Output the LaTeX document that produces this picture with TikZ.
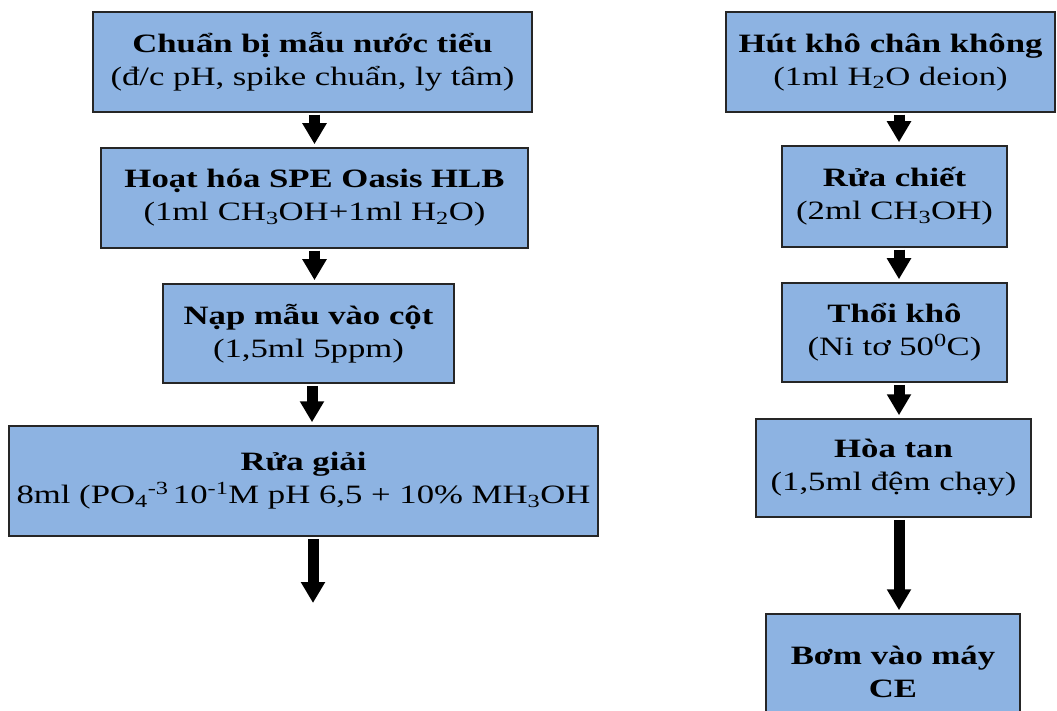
\documentclass[tikz,border=0pt]{standalone}
\usepackage{fontspec}
\setmainfont{Liberation Serif}[FakeStretch=1.31]
\usepackage{tikz}
\usetikzlibrary{arrows.meta,calc}
\definecolor{xanhhop}{RGB}{141,179,226}
\tikzstyle{muiten}=[-{Triangle[width=23pt,length=21pt]}, line width=11pt, shorten <=2pt, shorten >=3pt]

\begin{document}
\begin{tikzpicture}[x=1pt,y=-1pt,
          hop/.style={rectangle,draw=black!85,fill=xanhhop,line width=1.5pt,inner sep=0pt,
          align=center,font=\fontsize{26.5}{33}\selectfont}]
        \useasboundingbox (0,0) rectangle (1057,711);
        % cot trai
        \node [hop, minimum width=439pt, minimum height=100pt] (b1) at (312.5,62)
          {\textbf{Chuẩn bị mẫu nước tiểu}\\(đ/c pH, spike chuẩn, ly tâm)};
        \node [hop, minimum width=427pt, minimum height=100pt] (b2) at (314.5,198)
          {\textbf{Hoạt hóa SPE Oasis HLB}\\(1ml CH\textsubscript{3}OH+1ml H\textsubscript{2}O)};
        \node [hop, minimum width=291pt, minimum height=99pt] (b3) at (308.5,333.5)
          {\textbf{Nạp mẫu vào cột}\\(1,5ml 5ppm)};
        \node [hop, minimum width=589pt, minimum height=110pt] (b4) at (303.5,481)
          {\textbf{Rửa giải}\\8ml (PO\textsubscript{4}\textsuperscript{-3}\,10\textsuperscript{-1}M pH 6,5 + 10\% MH\textsubscript{3}OH};
        \coordinate (cuoi) at (313,606);
        % cot phai
        \node [hop, minimum width=329pt, minimum height=100pt] (r1) at (890.5,62)
          {\textbf{Hút khô chân không}\\(1ml H\textsubscript{2}O deion)};
        \node [hop, minimum width=225pt, minimum height=101pt] (r2) at (894.5,196.5)
          {\textbf{Rửa chiết}\\(2ml CH\textsubscript{3}OH)};
        \node [hop, minimum width=225pt, minimum height=99pt] (r3) at (894.5,332.5)
          {\textbf{Thổi khô}\\(Ni tơ 50\textsuperscript{0}C)};
        \node [hop, minimum width=275pt, minimum height=98pt] (r4) at (893.5,468)
          {\textbf{Hòa tan}\\(1,5ml đệm chạy)};
        \node [hop, minimum width=254pt, minimum height=116pt] (r5) at (893,672)
          {\textbf{Bơm vào máy}\\\textbf{CE}};
        \draw[muiten] (b2.north |- b1.south) -- (b2.north);
        \draw[muiten] (b2.south) -- (b2.south |- b3.north);
        \draw[muiten] ([xshift=3.5pt]b3.south) -- ([xshift=3.5pt]b3.south |- b4.north);
        \draw[muiten] (b4.south -| cuoi) -- (cuoi);
        \draw[muiten] ([xshift=4.5pt]r2.north |- r1.south) -- ([xshift=4.5pt]r2.north);
        \draw[muiten] ([xshift=4.5pt]r2.south) -- ([xshift=4.5pt]r3.north);
        \draw[muiten] ([xshift=4.5pt]r3.south) -- ([xshift=4.5pt]r3.south |- r4.north);
        \draw[muiten] ([xshift=5.5pt]r4.south) -- ([xshift=5.5pt]r4.south |- r5.north);
      \end{tikzpicture}
\end{document}
